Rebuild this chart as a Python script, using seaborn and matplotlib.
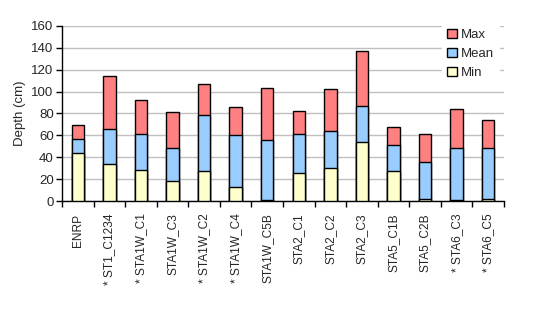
import matplotlib
matplotlib.use("Agg")
import matplotlib.pyplot as plt
from matplotlib.patches import Patch
import seaborn as sns
import pandas as pd

categories = ["ENRP", "* ST1_C1234", "* STA1W_C1", "STA1W_C3", "* STA1W_C2", "* STA1W_C4",
              "STA1W_C5B", "STA2_C1", "STA2_C2", "STA2_C3", "STA5_C1B", "STA5_C2B",
              "* STA6_C3", "* STA6_C5"]
max_vals = [69.5, 114, 92.5, 81.5, 107, 86, 103.5, 82, 102.5, 137, 67.5, 61, 84, 74]
mean_vals = [56.5, 65.5, 61, 48.5, 78.5, 60, 55.5, 61, 64, 86.5, 51, 35.5, 48.5, 48.5]
min_vals = [43.5, 33.5, 28, 18, 27, 12.5, 0.7, 25.5, 30, 53.5, 27, 1.5, 0.8, 1.5]

series_names = ["Max", "Mean", "Min"]
series_colors = ["#FF8080", "#99CCFF", "#FFFFCC"]

df = pd.DataFrame({"cat": categories, "Max": max_vals, "Mean": mean_vals, "Min": min_vals})

sns.set_style("white")
plt.rcParams['font.family'] = ['Liberation Sans', 'DejaVu Sans']
FS = 9.5

fig = plt.figure(figsize=(5.33, 3.31), dpi=100)
ax = fig.add_axes([0.1163, 0.3927, 0.8293, 0.5288])

for name, col in zip(series_names, series_colors):
    sns.barplot(data=df, x="cat", y=name, color=col, width=0.39, edgecolor="black",
                linewidth=1.0, saturation=1, ax=ax, zorder=3)

ax.set_ylim(0, 160)
ax.set_xlim(-0.5, len(categories) - 0.5)
ax.set_yticks(range(0, 161, 20))
ax.yaxis.grid(True, color="#C0C0C0", linewidth=1, zorder=0)
ax.set_axisbelow(True)
for s in ["top", "right"]:
    ax.spines[s].set_visible(False)
for s in ["left", "bottom"]:
    ax.spines[s].set_color("black")
    ax.spines[s].set_linewidth(1)

ax.set_xticks(range(len(categories)))
ax.set_xticklabels(categories, rotation=90, fontsize=8.6)
ax.set_xticks([i - 0.5 for i in range(len(categories) + 1)], minor=True)
ax.tick_params(axis="x", which="major", length=0, pad=9)
ax.tick_params(axis="x", which="minor", length=4, width=1, color="black", direction="out", bottom=True)
ax.tick_params(axis="y", length=4, width=1, color="black", direction="out", left=True, labelsize=FS, pad=2)
ax.set_xlabel("")
ax.set_ylabel("Depth (cm)", fontsize=FS, labelpad=4)

handles = [Patch(facecolor=c, edgecolor="black", linewidth=1) for c in series_colors]
leg = ax.legend(handles, series_names, loc="upper left", bbox_to_anchor=(0.845, 1.05),
                frameon=True, fancybox=False, framealpha=1, edgecolor="white",
                fontsize=FS, handlelength=0.7, handleheight=0.7, handletextpad=0.3,
                labelspacing=0.5, borderpad=0.4)
leg.set_zorder(5)

fig.savefig("out.png", dpi=100)
